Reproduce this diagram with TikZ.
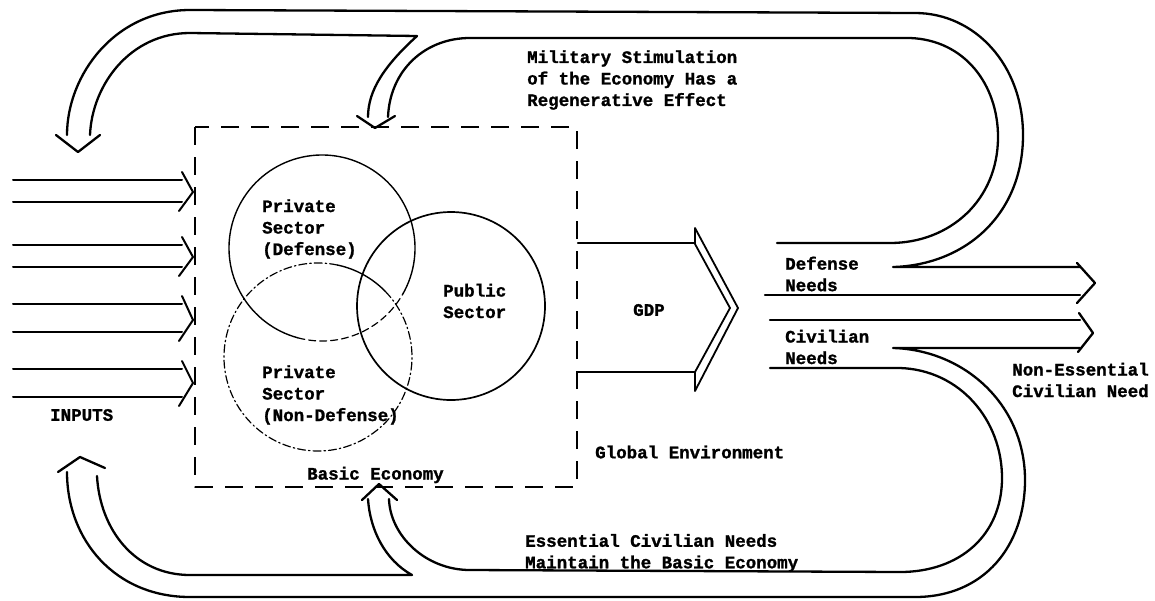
\documentclass[tikz,border=0pt]{standalone}
\usepackage{fontspec}
\setmainfont{Liberation Mono}[BoldFeatures={FakeBold=1.3}]
\begin{document}
\begin{tikzpicture}[x=1pt,y=-1pt,line join=round,line cap=round,
  band/.style={line width=2.3pt},
  inarrow/.style={line width=2pt},
  ring/.style={line width=1.4pt},
  dashring/.style={line width=1.2pt,dash pattern=on 8pt off 3pt on 1.5pt off 3pt},
  boxline/.style={line width=2.1pt,dash pattern=on 18pt off 12pt,line cap=butt},
  lbl/.style={font=\fontsize{17.5}{21.5}\selectfont\bfseries,inner sep=0pt,align=left,anchor=west}]
\useasboundingbox (0,0) rectangle (1155,600);

% dashed box (Basic Economy)
\draw[boxline] (195,127) rectangle (577,487);

% circles
\draw[ring] ([shift={(-30:93pt)}]322,248) arc[start angle=-30,end angle=255,radius=93pt];
\draw[line width=1.2pt,dash pattern=on 7pt off 4pt] ([shift={(255:93pt)}]322,248) arc[start angle=255,end angle=330,radius=93pt];
\draw[ring] ([shift={(44:94pt)}]318,357) arc[start angle=44,end angle=78,radius=94pt];
\draw[dashring] ([shift={(78:94pt)}]318,357) arc[start angle=78,end angle=404,radius=94pt];
\draw[line width=1.7pt] (451,306) circle[radius=94pt];

% input arrows
\foreach \a/\b/\m in {180/202/192,245/267/257,304/332/320,369/397/383}{
  \draw[inarrow] (13,\a) -- (182,\a) (13,\b) -- (182,\b);
  \draw[inarrow] (182,\a-8) -- (193,\m) -- (179,\b+9);
}

% top band: outer line
\draw[band] (67,135) .. controls (67,75) and (115,10) .. (190,10) -- (915,13)
  .. controls (975,13) and (1023,65) .. (1023,135)
  .. controls (1023,215) and (965,265) .. (893,267) -- (1080,267);
% top band: inner lines
\draw[band] (90,135) .. controls (92,85) and (130,33) .. (190,33) -- (417,36)
  .. controls (385,65) and (368,90) .. (368,117);
\draw[band] (388,117) .. controls (390,70) and (425,38) .. (470,38) -- (910,38)
  .. controls (965,40) and (998,85) .. (998,137)
  .. controls (998,200) and (950,243) .. (890,243) -- (777,243);
% top arrowheads
\draw[band] (56,135) -- (78,152) -- (100,135);
\draw[band] (357,116) -- (375,128) -- (395,116);

% bottom band: outer line
\draw[band] (67,472) .. controls (67,540) and (115,597) .. (190,597) -- (915,597)
  .. controls (985,597) and (1025,545) .. (1025,480)
  .. controls (1025,405) and (965,350) .. (893,348) -- (1080,348);
% bottom band: inner lines
\draw[band] (97,476) .. controls (100,530) and (135,575) .. (190,575) -- (412,575)
  .. controls (385,560) and (370,530) .. (368,499);
\draw[band] (389,499) .. controls (390,535) and (425,570) .. (470,570) -- (900,572)
  .. controls (960,572) and (1002,535) .. (1002,478)
  .. controls (1002,420) and (960,370) .. (900,368) -- (770,368);
% bottom arrowheads
\draw[band] (58,472) -- (80,457) -- (105,468);
\draw[band] (362,500) -- (379,484) -- (397,500);

% output arrows
\draw[band] (765,295) -- (1080,295);
\draw[band] (1077,263) -- (1095,283) -- (1077,303);
\draw[band] (770,320) -- (1080,320);
\draw[band] (1079,313) -- (1093,333) -- (1078,352);

% GDP arrow
\draw[band] (578,243) -- (695,243);
\draw[band] (578,372) -- (695,372);
\draw[line width=1.8pt] (695,228) -- (738,308) -- (695,391) -- (695,372) -- (730,308) -- (695,244) -- cycle;

% labels
\node[lbl] (mil) at (527,80) {Military Stimulation\\of the Economy Has a\\Regenerative Effect};
\node[lbl] (pdef) at (262,229) {Private\\Sector\\(Defense)};
\node[lbl] (pnon) at (262,395) {Private\\Sector\\(Non-Defense)};
\node[lbl] (pub) at (443,301) {Public\\Sector};
\node[lbl] (gdp) at (633,310) {GDP};
\node[lbl] (defn) at (785,274) {Defense\\Needs};
\node[lbl] (civn) at (785,347) {Civilian\\Needs};
\node[lbl] (nonn) at (1012,380) {Non-Essential\\Civilian Need};
\node[lbl] (inp) at (50,415) {INPUTS};
\node[lbl] (basic) at (307,475) {Basic Economy};
\node[lbl] (glob) at (595,452) {Global Environment};
\node[lbl] (ess) at (525,553) {Essential Civilian Needs\\Maintain the Basic Economy};
\end{tikzpicture}
\end{document}
